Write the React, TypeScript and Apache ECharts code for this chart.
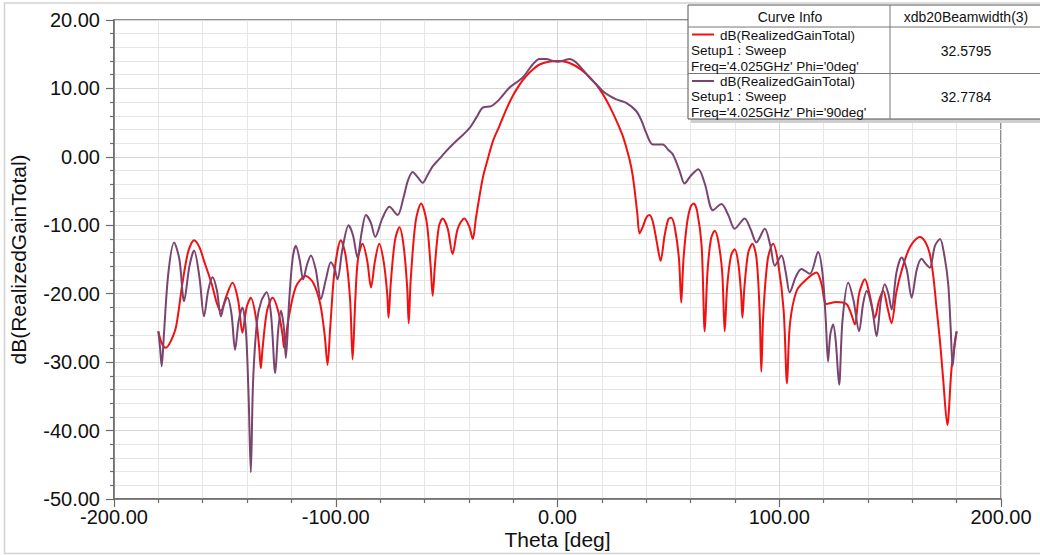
import React, { useEffect, useRef } from "react";
import * as echarts from "echarts";

const xTicks = [-200, -100, 0, 100, 200];
const yTicks = [-50, -40, -30, -20, -10, 0, 10, 20];

const seriesNames = [
  "dB(RealizedGainTotal) Phi='0deg'",
  "dB(RealizedGainTotal) Phi='90deg'",
];
const beamwidths = ["32.5795", "32.7784"];

// Theta [deg], dB  — Phi = 0deg (red)
const phi0: [number, number][] = [
  [-180, -25.5], [-178.5, -27.2], [-176.7, -27.9], [-174.5, -27.0], [-172, -24.8],
  [-169.2, -18.6], [-166.5, -13.8], [-163.9, -12.2], [-161.5, -13.2], [-159.4, -15.2],
  [-156, -18.5], [-153.5, -21.5], [-151.8, -22.5], [-149.5, -20.5], [-146.6, -18.4],
  [-144, -21], [-142.1, -25.7], [-140.2, -22], [-138.3, -20.6], [-136, -23.5],
  [-134.5, -28], [-133.8, -30.9], [-133, -28], [-131, -22.5], [-128.5, -20.6],
  [-126, -22.5], [-124, -26], [-123.3, -27.9], [-121.5, -24], [-118, -19],
  [-113.5, -17.4], [-110, -18.5], [-107, -21.5], [-105, -26], [-103.7, -30.4],
  [-102.5, -25], [-100.5, -16.5], [-97.7, -12.2], [-95.5, -14.5], [-93.5, -21],
  [-92.4, -29.6], [-91.2, -21], [-90, -15], [-87.9, -12.7], [-85.8, -15.2],
  [-84.1, -19.1], [-82.3, -15.2], [-80.4, -12.7], [-78.3, -15.5], [-76.8, -20],
  [-76.2, -23.5], [-75.2, -18.5], [-73.3, -12.2], [-71.3, -10.3], [-69.4, -13],
  [-67.8, -19], [-67.1, -24.3], [-66.2, -18], [-64, -9.5], [-61.5, -6.8],
  [-59, -9.5], [-57.2, -16], [-56.3, -20.3], [-55.2, -15.5], [-53.5, -10.2],
  [-51.8, -9.0], [-49.5, -10.5], [-47.3, -14.2], [-45, -10.5], [-42.0, -9.0],
  [-39.8, -10.2], [-38.2, -12.0], [-36.8, -9], [-35.2, -5.8], [-33.5, -2.8],
  [-31.5, -0.4], [-29, 2.4], [-26.2, 4.5], [-23, 7], [-20.2, 8.9],
  [-17, 10.6], [-14.1, 11.8], [-11, 12.8], [-8.1, 13.5], [-4, 13.9],
  [0, 14.0], [3.5, 13.9], [6.9, 13.5], [10, 12.9], [13.0, 12.1],
  [16, 11.1], [19.0, 9.9], [22, 8.3], [25.0, 6.4], [27.5, 4.6],
  [29.5, 3.0], [31, 1.4], [32.5, -0.4], [33.8, -2.5], [34.8, -4.9],
  [36, -8.3], [37.0, -11.2], [38.5, -10.2], [40, -8.9], [41.5, -8.5],
  [43, -9.5], [44.8, -12.5], [46.5, -15.2], [48.3, -11.5], [50, -9.1],
  [51.3, -8.9], [53, -10.5], [54.8, -15], [55.8, -21.3], [56.8, -15],
  [58.5, -9.5], [60, -7.3], [61.4, -6.8], [63, -8], [65, -13],
  [66.4, -25.5], [67.6, -17], [69.2, -12], [70.9, -10.8], [72.6, -12.5],
  [74.3, -17], [75.4, -25.5], [76.5, -19], [78.2, -14.5], [79.9, -13.5],
  [81.5, -15.5], [82.8, -20], [83.4, -23.5], [84.3, -19], [86, -14],
  [87.9, -12.7], [89.8, -15], [91.2, -23], [91.9, -31.4], [92.8, -23],
  [94.8, -15], [97.2, -12.7], [99.5, -15.5], [102, -22.5], [103.5, -33.1],
  [104.8, -24.5], [107.8, -19.6], [112.3, -17.9], [116.8, -16.9], [119, -18.5],
  [121.3, -21.5], [125.8, -21.2], [130.3, -21.5], [132.5, -23], [134.1, -24.5],
  [136, -20], [138.6, -17.9], [141, -20.5], [143.1, -23.5], [145, -21],
  [146.9, -19.6], [148.8, -22], [150.6, -24.3], [152.8, -19.8], [155.2, -16.6],
  [158.9, -13.2], [163.4, -11.7], [166, -12.5], [167.9, -14.2], [169.5, -17.5],
  [170.9, -22.0], [172.5, -27], [173.9, -32.4], [175.8, -39.2], [177.7, -30.9],
  [180, -25.5],
];

// Theta [deg], dB  — Phi = 90deg (purple)
const phi90: [number, number][] = [
  [-180, -25.5], [-179.2, -28], [-178.5, -30.6], [-177.5, -26], [-175.5, -17],
  [-172.9, -12.5], [-170.5, -15], [-168.4, -21.1], [-166, -16], [-163.9, -13.7],
  [-161.5, -17.5], [-159.4, -23.3], [-157.5, -19.5], [-155.6, -17.6], [-153.6, -19.5],
  [-151.8, -23.3], [-150.3, -21.5], [-148.8, -20.6], [-147, -23], [-145.4, -28.2],
  [-143.8, -24], [-142.1, -22.0], [-140.5, -25.5], [-139.3, -35], [-138.3, -46.1],
  [-137.3, -33], [-135.5, -24], [-133.5, -21], [-131.2, -19.8], [-129.2, -23],
  [-127.3, -31.6], [-126, -25.5], [-124.7, -22.5], [-123.4, -25], [-122.5, -29.4],
  [-121, -21], [-119.5, -15], [-118.0, -13.0], [-116.3, -15], [-114.7, -17.9],
  [-113, -15.8], [-111.2, -14.4], [-109, -16.5], [-106.7, -20.8], [-104.5, -18],
  [-102.2, -15.4], [-100.6, -16.3], [-99.2, -17.9], [-97, -13.5], [-94.2, -10.0],
  [-92.2, -11.5], [-90.2, -14.7], [-88.3, -11], [-86.4, -8.5], [-84.2, -9.6],
  [-82.2, -11.7], [-79, -9], [-75.8, -7.3], [-72.1, -8.5], [-69.5, -6],
  [-67.5, -3.5], [-65.3, -2.2], [-63, -3], [-60.8, -3.8], [-58.5, -2.6],
  [-56.3, -1.4], [-53.3, -0.3], [-50.3, 0.8], [-47.3, 1.8], [-44.2, 2.75],
  [-39.7, 4.2], [-36.5, 5.8], [-33.7, 7.2], [-29.9, 7.4], [-26.2, 8.4],
  [-21.7, 10.1], [-15.7, 11.6], [-11.2, 13.5], [-8.1, 14.3], [-5.1, 14.3],
  [-2, 14.0], [0.1, 13.9], [3, 14.1], [5.4, 14.3], [8.4, 13.8],
  [11.5, 12.7], [14.4, 11.6], [17.5, 10.6], [20.5, 9.6], [23.5, 8.9],
  [26.5, 8.4], [31.0, 7.9], [35.5, 6.7], [38, 5.2], [40.0, 3.5],
  [43.0, 1.8], [47.5, 1.8], [50, 1.0], [52.1, 0.3], [55, -2],
  [57.3, -3.9], [60, -2.8], [63.5, -1.8], [66.5, -4], [70.1, -7.8],
  [73.9, -6.9], [77, -8.5], [79.9, -10.5], [84.4, -9.0], [87, -10.5],
  [89.7, -12.5], [93.5, -10.5], [96, -13], [98.0, -15.9], [101.0, -14.4],
  [103, -17], [104.7, -19.8], [107.5, -17.5], [110.0, -16.4], [113.8, -17.1],
  [117.5, -13.9], [119.5, -17], [121, -24], [122.0, -29.9], [123, -26],
  [124.3, -24.5], [125.5, -27], [127.0, -33.3], [128.5, -24], [131.1, -18.4],
  [133.5, -21], [136.0, -25.5], [137.8, -21.5], [139.4, -19.6], [141.8, -22],
  [143.9, -26.2], [145.8, -21], [147.6, -18.6], [149.2, -20], [150.7, -22.3],
  [152.8, -17], [155.2, -14.7], [157.5, -16.5], [159.7, -20.6], [162, -16.5],
  [164.2, -14.9], [166, -15.6], [167.9, -16.2], [170.2, -13], [172.5, -12.0],
  [174.5, -14.5], [176.2, -18.6], [177.3, -25], [178.2, -30.6], [179.2, -27],
  [180, -25.5],
];

const RED = "#f21010";
const PURPLE = "#7a4470";
const FONT = '"Liberation Sans", Arial, sans-serif';

function txt(text: string, x: number, y: number, align: string, size = 13.5) {
  return {
    type: "text",
    z: 101,
    style: {
      text,
      x,
      y,
      fill: "#111",
      font: `${size}px ${FONT}`,
      lineHeight: 14,
      align,
      verticalAlign: "middle",
      textAlign: align,
      textVerticalAlign: "middle",
    },
  };
}

export default function App() {
  const ref = useRef<HTMLDivElement>(null);
  useEffect(() => {
    if (!ref.current) return;
    const chart = echarts.init(ref.current, null, { renderer: "svg" });
    const axisCommon = {
      axisLine: { show: true, onZero: false, lineStyle: { color: "#6a6a6a", width: 1.5 } },
      axisTick: { show: true, inside: false, length: 8, lineStyle: { color: "#6a6a6a", width: 1.2 } },
      minorTick: { show: true, splitNumber: 5, length: 4, lineStyle: { color: "#6a6a6a", width: 1.2 } },
      splitLine: { show: true, lineStyle: { color: "#d6d6d6", width: 1 } },
      minorSplitLine: { show: true, lineStyle: { color: "#e6e6e6", width: 1 } },
      axisLabel: {
        color: "#111",
        fontFamily: FONT,
        fontSize: 20,
        formatter: (v: number) => v.toFixed(2),
      },
      nameTextStyle: { color: "#111", fontFamily: FONT, fontSize: 21 },
    };
    const tbl = { left: 688, top: 5, right: 1045, bottom: 119, col: 890 };
    chart.setOption({
      animation: false,
      backgroundColor: "#ffffff",
      grid: {
        left: 114,
        top: 20,
        right: 39,
        bottom: 56,
        show: true,
        borderColor: "#6a6a6a",
        borderWidth: 1.5,
        backgroundColor: "transparent",
        containLabel: false,
        outerBoundsMode: "none",
      },
      xAxis: {
        type: "value",
        min: xTicks[0],
        max: xTicks[xTicks.length - 1],
        interval: 100,
        name: "Theta [deg]",
        nameLocation: "middle",
        nameGap: 30,
        nameMoveOverlap: false,
        ...axisCommon,
        axisLabel: { ...axisCommon.axisLabel, margin: 8 },
      },
      yAxis: {
        type: "value",
        min: yTicks[0],
        max: yTicks[yTicks.length - 1],
        interval: 10,
        name: "dB(RealizedGainTotal)",
        nameLocation: "middle",
        nameGap: 85,
        nameMoveOverlap: false,
        ...axisCommon,
        axisLabel: { ...axisCommon.axisLabel, margin: 14 },
      },
      series: [
        {
          name: seriesNames[0],
          type: "line",
          data: phi0,
          showSymbol: false,
          smooth: 0.3,
          lineStyle: { color: RED, width: 2 },
          itemStyle: { color: RED },
          z: 3,
        },
        {
          name: seriesNames[1],
          type: "line",
          data: phi90,
          showSymbol: false,
          smooth: 0.3,
          lineStyle: { color: PURPLE, width: 2 },
          itemStyle: { color: PURPLE },
          z: 4,
        },
      ],
      graphic: [
        {
          type: "rect",
          z: 90,
          silent: true,
          shape: { x: 4.5, y: 3, width: 1040, height: 550.5 },
          style: { fill: "none", stroke: "#d2d2d2", lineWidth: 1.5 },
        },
        {
          type: "rect",
          z: 99,
          shape: { x: tbl.left + 3, y: tbl.top + 4, width: tbl.right - tbl.left, height: tbl.bottom - tbl.top },
          style: { fill: "#cfcfcf", stroke: "none" },
        },
        {
          type: "rect",
          z: 100,
          shape: { x: tbl.left, y: tbl.top, width: tbl.right - tbl.left, height: tbl.bottom - tbl.top },
          style: { fill: "#ffffff", stroke: "#555", lineWidth: 1 },
        },
        {
          type: "line",
          z: 101,
          shape: { x1: tbl.left, y1: 27, x2: tbl.right, y2: 27 },
          style: { stroke: "#777", lineWidth: 1 },
        },
        {
          type: "line",
          z: 101,
          shape: { x1: tbl.left, y1: 73.5, x2: tbl.right, y2: 73.5 },
          style: { stroke: "#777", lineWidth: 1 },
        },
        {
          type: "line",
          z: 101,
          shape: { x1: tbl.col, y1: tbl.top, x2: tbl.col, y2: tbl.bottom },
          style: { stroke: "#777", lineWidth: 1 },
        },
        {
          type: "line",
          z: 101,
          shape: { x1: 692, y1: 34.5, x2: 714, y2: 34.5 },
          style: { stroke: RED, lineWidth: 2 },
        },
        {
          type: "line",
          z: 101,
          shape: { x1: 692, y1: 81, x2: 714, y2: 81 },
          style: { stroke: PURPLE, lineWidth: 2 },
        },
        txt("Curve Info", 790, 16.5, "center", 14),
        txt("xdb20Beamwidth(3)", 966, 16.5, "center", 14),
        txt("dB(RealizedGainTotal)", 720, 35, "left"),
        txt("Setup1 : Sweep", 691, 50.5, "left"),
        txt("Freq='4.025GHz' Phi='0deg'", 691, 66, "left"),
        txt(beamwidths[0], 966, 50.5, "center", 14),
        txt("dB(RealizedGainTotal)", 720, 81, "left"),
        txt("Setup1 : Sweep", 691, 96.5, "left"),
        txt("Freq='4.025GHz' Phi='90deg'", 691, 112, "left"),
        txt(beamwidths[1], 966, 97, "center", 14),
      ],
    });
    return () => chart.dispose();
  }, []);
  return (
    <div
      ref={ref}
      style={{ position: "absolute", left: 0, top: 0, width: 1040, height: 555 }}
    />
  );
}
